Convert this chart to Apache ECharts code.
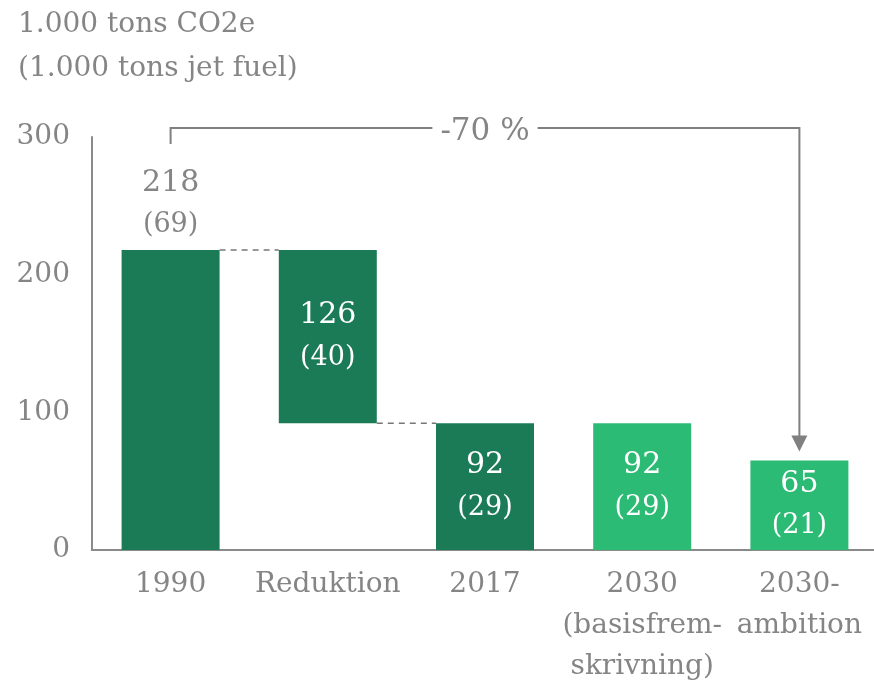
<!DOCTYPE html>
<html>
<head>
    <meta charset="utf-8">
    <script src="https://cdn.jsdelivr.net/npm/echarts@6/dist/echarts.min.js"></script>
    <style>
        html, body { margin: 0; padding: 0; background: #fff; }
        #container { width: 874px; height: 684px; }
    </style>
</head>
<body>
<div id="container"></div>
<script>
    // data
    let categories = ['1990', 'Reduktion', '2017', '2030\n(basisfrem-\nskrivning)', '2030-\nambition'];
    let co2 = [218, 126, 92, 92, 65];          // 1.000 tons CO2e
    let jetFuel = [69, 40, 29, 29, 21];        // 1.000 tons jet fuel
    let baseOffset = [0, 92, 0, 0, 0];         // invisible part of the waterfall
    let yTicks = [0, 100, 200, 300];
    let changeText = '-70 %';

    let gray = '#858585';
    let dark = '#1b7b56';
    let light = '#2bbb74';
    let barColors = [dark, dark, dark, light, light];
    let font = 'DejaVu Serif';
    let barW = 98;

    let dom = document.getElementById('container');
    let myChart = echarts.init(dom);

    let mainData = co2.map(function (v, i) {
        let top = i === 0;
        return {
            value: v,
            itemStyle: {color: barColors[i]},
            label: {
                position: top ? 'top' : 'inside',
                distance: 4,
                color: top ? gray : '#fff'
            }
        };
    });

    // connector lines: [from category, value, to category]
    let connectors = [[0, baseOffset[1] + co2[1], 1], [1, baseOffset[1], 2]];

    let option = {
        animation: false,
        textStyle: {fontFamily: font},
        title: {
            text: '1.000 tons CO2e\n(1.000 tons jet fuel)',
            left: 13,
            top: -2,
            textStyle: {fontFamily: font, fontSize: 28, fontWeight: 'normal', color: gray, lineHeight: 44}
        },
        grid: {left: 92, right: -4, top: 137, bottom: 134, outerBoundsMode: 'none'},
        xAxis: {
            type: 'category',
            data: categories,
            axisLine: {lineStyle: {color: '#8a8a8a', width: 2}},
            axisTick: {show: false},
            axisLabel: {color: gray, fontSize: 28, fontFamily: font, lineHeight: 41, margin: 14, interval: 0}
        },
        yAxis: {
            type: 'value',
            min: yTicks[0],
            max: yTicks[yTicks.length - 1],
            interval: 100,
            axisLine: {show: true, lineStyle: {color: '#8a8a8a', width: 2}},
            axisTick: {show: false},
            splitLine: {show: false},
            axisLabel: {color: gray, fontSize: 28, fontFamily: font, margin: 22, padding: [7, 0, 0, 0]}
        },
        series: [
            {
                type: 'bar',
                stack: 'w',
                barWidth: barW,
                data: baseOffset,
                itemStyle: {color: 'transparent'},
                silent: true
            },
            {
                type: 'bar',
                stack: 'w',
                barWidth: barW,
                data: mainData,
                label: {
                    show: true,
                    fontFamily: font,
                    formatter: function (p) {
                        return '{a|' + co2[p.dataIndex] + '}\n{b|(' + jetFuel[p.dataIndex] + ')}';
                    },
                    rich: {
                        a: {fontSize: 30, lineHeight: 42, fontFamily: font},
                        b: {fontSize: 27, lineHeight: 42, fontFamily: font}
                    }
                }
            },
            {
                type: 'custom',
                silent: true,
                data: connectors,
                renderItem: function (params, api) {
                    let a = api.coord([api.value(0), api.value(1)]);
                    let b = api.coord([api.value(2), api.value(1)]);
                    return {
                        type: 'line',
                        shape: {x1: a[0] + barW / 2, y1: a[1], x2: b[0] - barW / 2, y2: b[1]},
                        style: {stroke: '#777', lineWidth: 1.5, lineDash: [6, 5]}
                    };
                }
            },
            {
                // bracket with arrow from 1990 to 2030-ambition
                type: 'custom',
                silent: true,
                data: [[0, 4, co2[4], yTicks[yTicks.length - 1]]],
                renderItem: function (params, api) {
                    let from = api.coord([api.value(0), api.value(3)]);
                    let to = api.coord([api.value(1), api.value(2)]);
                    let yTop = from[1] - 9;
                    let tipY = to[1] - 9;
                    let x0 = from[0];
                    let x1 = to[0];
                    let col = '#808080';
                    return {
                        type: 'group',
                        children: [
                            {
                                type: 'polyline',
                                shape: {points: [[x0, yTop + 16], [x0, yTop], [x1, yTop], [x1, tipY - 14]]},
                                style: {stroke: col, lineWidth: 2, fill: null}
                            },
                            {
                                type: 'polygon',
                                shape: {points: [[x1 - 8, tipY - 16], [x1 + 8, tipY - 16], [x1, tipY]]},
                                style: {fill: col}
                            },
                            {
                                type: 'text',
                                x: (x0 + x1) / 2,
                                y: yTop + 4,
                                style: {
                                    text: changeText,
                                    fill: gray,
                                    font: '31px "' + font + '"',
                                    align: 'center',
                                    verticalAlign: 'middle',
                                    backgroundColor: '#fff',
                                    padding: [0, 8]
                                }
                            }
                        ]
                    };
                }
            }
        ]
    };

    myChart.setOption(option);
</script>
</body>
</html>
